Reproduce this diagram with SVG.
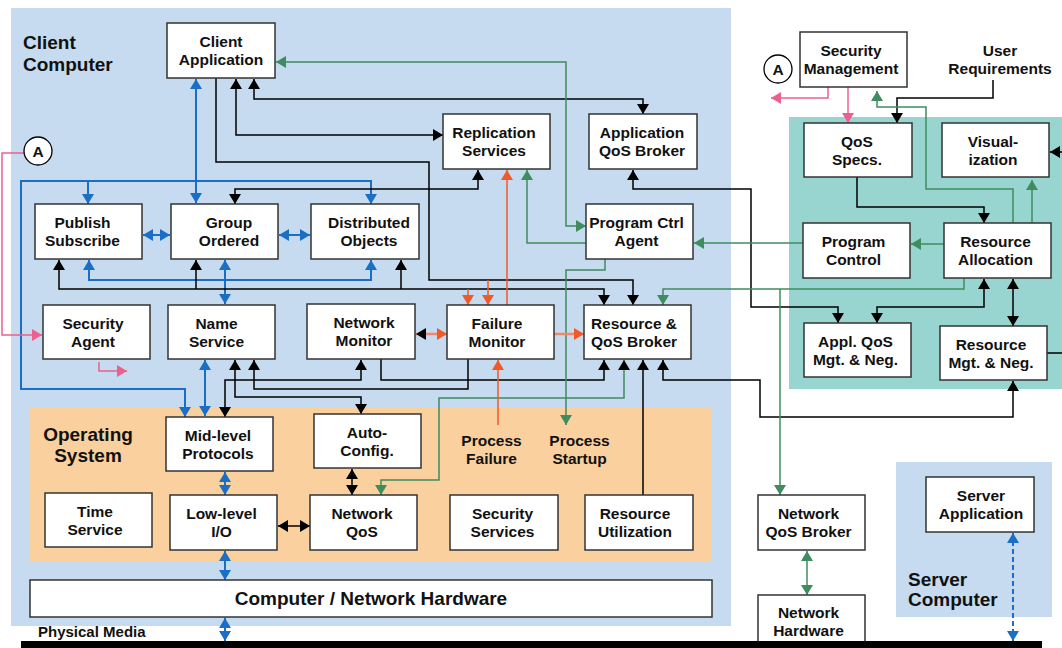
<svg xmlns="http://www.w3.org/2000/svg" width="1062" height="648" viewBox="0 0 1062 648">
  <defs>
    <style>
      .box { fill: #ffffff; stroke: #333333; stroke-width: 1.5; }
      .t { font-family: "Liberation Sans", Arial, Helvetica, sans-serif; font-weight: bold; font-size: 15.5px; fill: #111111; text-anchor: middle; }
      .tl { font-family: "Liberation Sans", Arial, Helvetica, sans-serif; font-weight: bold; font-size: 15px; fill: #111111; text-anchor: start; }
      .big { font-family: "Liberation Sans", Arial, Helvetica, sans-serif; font-weight: bold; font-size: 19px; fill: #111111; }
      .blk { fill: none; stroke: #000000; stroke-width: 1.5; }
      .blu { fill: none; stroke: #1a6fc4; stroke-width: 2; }
      .grn { fill: none; stroke: #3f8c5e; stroke-width: 1.5; }
      .org { fill: none; stroke: #ef5a28; stroke-width: 1.5; }
      .sal { fill: none; stroke: #f0876a; stroke-width: 2.5; }
      .pnk { fill: none; stroke: #ee5f8e; stroke-width: 1.5; }
    </style>
    <marker id="aBlk" markerUnits="userSpaceOnUse" viewBox="0 0 10 12" refX="10" refY="6" markerWidth="10" markerHeight="12" orient="auto-start-reverse"><path d="M0,0 L10,6 L0,12 z" fill="#000000"/></marker>
    <marker id="aBlu" markerUnits="userSpaceOnUse" viewBox="0 0 10 12" refX="10" refY="6" markerWidth="10" markerHeight="12" orient="auto-start-reverse"><path d="M0,0 L10,6 L0,12 z" fill="#1a6fc4"/></marker>
    <marker id="aGrn" markerUnits="userSpaceOnUse" viewBox="0 0 10 12" refX="10" refY="6" markerWidth="10" markerHeight="12" orient="auto-start-reverse"><path d="M0,0 L10,6 L0,12 z" fill="#3f8c5e"/></marker>
    <marker id="aOrg" markerUnits="userSpaceOnUse" viewBox="0 0 10 12" refX="10" refY="6" markerWidth="10" markerHeight="12" orient="auto-start-reverse"><path d="M0,0 L10,6 L0,12 z" fill="#ef5a28"/></marker>
    <marker id="aPnk" markerUnits="userSpaceOnUse" viewBox="0 0 10 12" refX="10" refY="6" markerWidth="10" markerHeight="12" orient="auto-start-reverse"><path d="M0,0 L10,6 L0,12 z" fill="#ee5f8e"/></marker>
  </defs>

  <rect width="1062" height="648" fill="#ffffff"/>

  <!-- regions -->
  <g id="regions">
    <rect x="11" y="8" width="720" height="618" fill="#c6dbef"/>
    <rect x="30" y="407" width="681" height="154" fill="#fad09f"/>
    <rect x="789" y="117" width="273" height="272" fill="#98d4d0"/>
    <rect x="896" y="462" width="156" height="155" fill="#c6dbef"/>
    <text class="big" x="23" y="49">Client</text>
    <text class="big" x="23" y="71">Computer</text>
    <text class="big" x="88" y="440.5" text-anchor="middle">Operating</text>
    <text class="big" x="88" y="462" text-anchor="middle">System</text>
    <text class="big" x="908" y="586">Server</text>
    <text class="big" x="908" y="606">Computer</text>
  </g>

  <!-- connectors -->
  <g id="connectors">
    <!-- blue -->
    <path class="blu" d="M196,79 V203" marker-start="url(#aBlu)" marker-end="url(#aBlu)"/>
    <path class="blu" d="M371,204 V181 H21 V389 H185 V417" marker-start="url(#aBlu)" marker-end="url(#aBlu)"/>
    <path class="blu" d="M88,181 V204" marker-end="url(#aBlu)"/>
    <path class="blu" d="M143,235 H170" marker-start="url(#aBlu)" marker-end="url(#aBlu)"/>
    <path class="blu" d="M279,235 H310" marker-start="url(#aBlu)" marker-end="url(#aBlu)"/>
    <path class="blu" d="M89,260 V280 H371 V260" marker-start="url(#aBlu)" marker-end="url(#aBlu)"/>
    <path class="blu" d="M225,260 V304" marker-start="url(#aBlu)" marker-end="url(#aBlu)"/>
    <path class="blu" d="M205,360 V416" marker-start="url(#aBlu)" marker-end="url(#aBlu)"/>
    <path class="blu" d="M225,472 V495" marker-start="url(#aBlu)" marker-end="url(#aBlu)"/>
    <path class="blu" d="M225,551 V580" marker-start="url(#aBlu)" marker-end="url(#aBlu)"/>
    <path class="blu" d="M225,618 V641" marker-start="url(#aBlu)" marker-end="url(#aBlu)"/>
    <path class="blu" d="M1013,533 V641" stroke-dasharray="5,3" stroke-width="1.5" marker-start="url(#aBlu)" marker-end="url(#aBlu)"/>

    <!-- black -->
    <path class="blk" d="M216,78 V162 H429 V280 H633 V305" marker-end="url(#aBlk)"/>
    <path class="blk" d="M236,79 V135 H443" marker-start="url(#aBlk)" marker-end="url(#aBlk)"/>
    <path class="blk" d="M254,79 V99 H643 V114" marker-start="url(#aBlk)" marker-end="url(#aBlk)"/>
    <path class="blk" d="M235,204 V189 H478 V170" marker-start="url(#aBlk)" marker-end="url(#aBlk)"/>
    <path class="blk" d="M633,170 V189 H751 V307 H838 V323" marker-start="url(#aBlk)" marker-end="url(#aBlk)"/>
    <path class="blk" d="M877,323 V307 H984 V279" marker-start="url(#aBlk)" marker-end="url(#aBlk)"/>
    <path class="blk" d="M1013,279 V326" marker-start="url(#aBlk)" marker-end="url(#aBlk)"/>
    <path class="blk" d="M857,177 V207 H984 V223" marker-end="url(#aBlk)"/>
    <path class="blk" d="M993,80 V98 H897 V123" marker-end="url(#aBlk)"/>
    <path class="blk" d="M1047,353 H1064 V152 H1050" marker-end="url(#aBlk)"/>
    <path class="blk" d="M59,260 V289 H604 V305" marker-start="url(#aBlk)" marker-end="url(#aBlk)"/>
    <path class="blk" d="M196,289 V260" marker-end="url(#aBlk)"/>
    <path class="blk" d="M401,289 V260" marker-end="url(#aBlk)"/>
    <path class="blk" d="M381,359 V380 H604 V360" marker-end="url(#aBlk)"/>
    <path class="blk" d="M225,417 V380 H361 V360" marker-start="url(#aBlk)" marker-end="url(#aBlk)"/>
    <path class="blk" d="M235,360 V397 H361 V414" marker-start="url(#aBlk)" marker-end="url(#aBlk)"/>
    <path class="blk" d="M254,360 V389 H468 V359" marker-start="url(#aBlk)"/>
    <path class="blk" d="M643,495 V360" marker-end="url(#aBlk)"/>
    <path class="blk" d="M663,360 V380 H760 V417 H1013 V381" marker-start="url(#aBlk)" marker-end="url(#aBlk)"/>
    <path class="blk" d="M352,469 V495" marker-start="url(#aBlk)" marker-end="url(#aBlk)"/>
    <path class="blk" d="M278,526 H310" marker-start="url(#aBlk)" marker-end="url(#aBlk)"/>

    <!-- green -->
    <path class="grn" d="M276,62 H566 V226 H586" marker-start="url(#aGrn)" marker-end="url(#aGrn)"/>
    <path class="grn" d="M527,170 V243 H586" marker-start="url(#aGrn)"/>
    <path class="grn" d="M803,243 H694" marker-end="url(#aGrn)"/>
    <path class="grn" d="M944,244 H911" marker-end="url(#aGrn)"/>
    <path class="grn" d="M605,259 V270 H566 V425" marker-end="url(#aGrn)"/>
    <path class="grn" d="M964,278 V289 H663 V305" marker-end="url(#aGrn)"/>
    <path class="grn" d="M780,289 V495" marker-end="url(#aGrn)"/>
    <path class="grn" d="M624,360 V398 H439 V480 H381 V495" marker-start="url(#aBlk)" marker-end="url(#aGrn)"/>
    <path class="grn" d="M1013,223 V189 H926 V107 H877 V91" marker-end="url(#aGrn)"/>
    <path class="grn" d="M1032,223 V180" marker-end="url(#aGrn)"/>
    <path class="grn" d="M807,551 V595" stroke-width="2" marker-start="url(#aGrn)" marker-end="url(#aGrn)"/>

    <!-- orange -->
    <path class="org" d="M507,305 V170" marker-end="url(#aOrg)"/>
    <path class="org" d="M498,425 V360" marker-end="url(#aOrg)"/>
    <path class="org" d="M468,289 V305" marker-end="url(#aOrg)"/>
    <path class="org" d="M488,280 V305" marker-end="url(#aOrg)"/>
    <path class="sal" d="M416,334 H447" marker-start="url(#aBlk)" marker-end="url(#aOrg)"/>
    <path class="sal" d="M554,334 H584" marker-end="url(#aOrg)"/>

    <!-- pink -->
    <path class="pnk" d="M24,153 H2 V335 H42" marker-end="url(#aPnk)"/>
    <path class="pnk" d="M99,362 V371 H127" marker-end="url(#aPnk)"/>
    <path class="pnk" d="M828,87 V98 H771" marker-end="url(#aPnk)"/>
    <path class="pnk" d="M848,87 V123" marker-end="url(#aPnk)"/>
  </g>

  <!-- nodes -->
  <g id="client-application"><rect class="box" x="167" y="23" width="108" height="55"/><text class="t" x="221" y="47">Client</text><text class="t" x="221" y="65">Application</text></g>
  <g id="replication-services"><rect class="box" x="443" y="114" width="107" height="55"/><text class="t" x="494" y="138">Replication</text><text class="t" x="494" y="156">Services</text></g>
  <g id="application-qos-broker"><rect class="box" x="589" y="114" width="108" height="55"/><text class="t" x="642" y="138">Application</text><text class="t" x="642" y="156">QoS Broker</text></g>
  <g id="security-management"><rect class="box" x="800" y="32" width="107" height="55"/><text class="t" x="851" y="56">Security</text><text class="t" x="851" y="74">Management</text></g>
  <g id="user-requirements"><text class="t" x="1000" y="55.5">User</text><text class="t" x="1000" y="73.5">Requirements</text></g>
  <g id="qos-specs"><rect class="box" x="804" y="123" width="108" height="54"/><text class="t" x="857" y="146.5">QoS</text><text class="t" x="857" y="164.5">Specs.</text></g>
  <g id="visualization"><rect class="box" x="942" y="123" width="107" height="54"/><text class="t" x="993" y="146.5">Visual-</text><text class="t" x="993" y="164.5">ization</text></g>
  <g id="publish-subscribe"><rect class="box" x="35" y="204" width="107" height="55"/><text class="t" x="82.5" y="228">Publish</text><text class="t" x="82.5" y="246">Subscribe</text></g>
  <g id="group-ordered"><rect class="box" x="171" y="204" width="107" height="55"/><text class="t" x="229" y="228">Group</text><text class="t" x="229" y="246">Ordered</text></g>
  <g id="distributed-objects"><rect class="box" x="311" y="204" width="108" height="55"/><text class="t" x="369" y="228">Distributed</text><text class="t" x="369" y="246">Objects</text></g>
  <g id="program-ctrl-agent"><rect class="box" x="586" y="204" width="107" height="55"/><text class="t" x="636.5" y="228">Program Ctrl</text><text class="t" x="636.5" y="246">Agent</text></g>
  <g id="program-control"><rect class="box" x="803" y="223" width="107" height="55"/><text class="t" x="853.5" y="247">Program</text><text class="t" x="853.5" y="265">Control</text></g>
  <g id="resource-allocation"><rect class="box" x="944" y="223" width="107" height="55"/><text class="t" x="995.5" y="247">Resource</text><text class="t" x="995.5" y="265">Allocation</text></g>
  <g id="security-agent"><rect class="box" x="43" y="305" width="107" height="54"/><text class="t" x="93" y="328.5">Security</text><text class="t" x="93" y="346.5">Agent</text></g>
  <g id="name-service"><rect class="box" x="168" y="305" width="107" height="54"/><text class="t" x="216.5" y="328.5">Name</text><text class="t" x="216.5" y="346.5">Service</text></g>
  <g id="network-monitor"><rect class="box" x="307" y="304" width="108" height="55"/><text class="t" x="364" y="328">Network</text><text class="t" x="364" y="346">Monitor</text></g>
  <g id="failure-monitor"><rect class="box" x="447" y="305" width="107" height="54"/><text class="t" x="497" y="328.5">Failure</text><text class="t" x="497" y="346.5">Monitor</text></g>
  <g id="resource-qos-broker"><rect class="box" x="584" y="305" width="107" height="54"/><text class="t" x="634" y="328.5">Resource &amp;</text><text class="t" x="634" y="346.5">QoS Broker</text></g>
  <g id="appl-qos-mgt"><rect class="box" x="804" y="323" width="107" height="54"/><text class="t" x="855.5" y="346.5">Appl. QoS</text><text class="t" x="855.5" y="364.5">Mgt. &amp; Neg.</text></g>
  <g id="resource-mgt"><rect class="box" x="940" y="326" width="107" height="54"/><text class="t" x="991" y="349.5">Resource</text><text class="t" x="991" y="367.5">Mgt. &amp; Neg.</text></g>
  <g id="mid-level-protocols"><rect class="box" x="166" y="417" width="107" height="54"/><text class="t" x="218" y="440.5">Mid-level</text><text class="t" x="218" y="458.5">Protocols</text></g>
  <g id="auto-config"><rect class="box" x="314" y="414" width="107" height="54"/><text class="t" x="367" y="437.5">Auto-</text><text class="t" x="367" y="455.5">Config.</text></g>
  <g id="process-failure"><text class="t" x="491.5" y="446">Process</text><text class="t" x="491.5" y="464">Failure</text></g>
  <g id="process-startup"><text class="t" x="579.5" y="446">Process</text><text class="t" x="579.5" y="464">Startup</text></g>
  <g id="time-service"><rect class="box" x="45" y="493" width="107" height="54"/><text class="t" x="95" y="516.5">Time</text><text class="t" x="95" y="534.5">Service</text></g>
  <g id="low-level-io"><rect class="box" x="170" y="495" width="107" height="55"/><text class="t" x="221.5" y="519">Low-level</text><text class="t" x="221.5" y="537">I/O</text></g>
  <g id="network-qos"><rect class="box" x="310" y="495" width="107" height="55"/><text class="t" x="362" y="519">Network</text><text class="t" x="362" y="537">QoS</text></g>
  <g id="security-services"><rect class="box" x="450" y="495" width="108" height="55"/><text class="t" x="502.5" y="519">Security</text><text class="t" x="502.5" y="537">Services</text></g>
  <g id="resource-utilization"><rect class="box" x="585" y="495" width="108" height="55"/><text class="t" x="635" y="519">Resource</text><text class="t" x="635" y="537">Utilization</text></g>
  <g id="network-qos-broker"><rect class="box" x="758" y="495" width="107" height="55"/><text class="t" x="808.5" y="519">Network</text><text class="t" x="808.5" y="537">QoS Broker</text></g>
  <g id="server-application"><rect class="box" x="926" y="477" width="108" height="55"/><text class="t" x="981" y="501">Server</text><text class="t" x="981" y="519">Application</text></g>
  <g id="computer-network-hardware"><rect class="box" x="30" y="580" width="682" height="37"/><text class="big" x="371" y="605" text-anchor="middle">Computer / Network Hardware</text></g>
  <g id="network-hardware"><rect class="box" x="758" y="595" width="107" height="58"/><text class="t" x="808.5" y="618">Network</text><text class="t" x="808.5" y="636">Hardware</text></g>

  <!-- off-page connector markers -->
  <g id="ref-a-left"><circle cx="38" cy="151" r="14" fill="#ffffff" stroke="#000000" stroke-width="1.3"/><text class="t" x="38" y="156.5">A</text></g>
  <g id="ref-a-right"><circle cx="778" cy="69" r="14" fill="#ffffff" stroke="#000000" stroke-width="1.3"/><text class="t" x="778" y="74.5">A</text></g>

  <!-- physical media bus -->
  <g id="physical-media">
    <rect x="21" y="641" width="1021" height="7" fill="#000000"/>
    <text class="tl" x="38" y="637">Physical Media</text>
  </g>
</svg>
